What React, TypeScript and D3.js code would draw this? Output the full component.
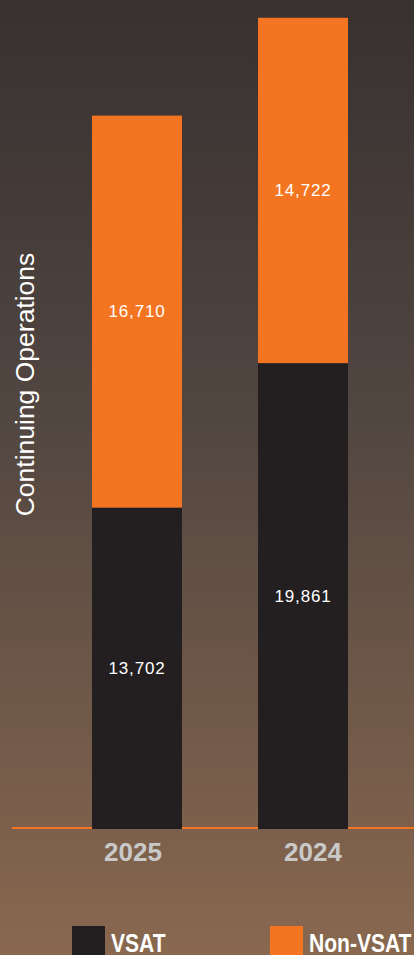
import React from "react";
import * as d3 from "d3";

const years = ["2025", "2024"];
const vsat = [13702, 19861];
const nonVsat = [16710, 14722];
const seriesNames = ["VSAT", "Non-VSAT"];
const seriesColors = ["#231f20", "#f47521"];
const axisTitle = "Continuing Operations";
const axisMax = 35000;

const W = 414;
const H = 955;

export default function App() {
  const data = years.map((y, i) => ({ year: y, VSAT: vsat[i], "Non-VSAT": nonVsat[i] }));
  const stack = d3.stack<any>().keys(seriesNames)(data);

  const baseline = 829;
  const y = d3.scaleLinear().domain([0, axisMax]).range([baseline, 8]);
  const x = d3.scaleBand<string>().domain(years).range([16, 424]).paddingInner(0.458).paddingOuter(0.458);
  const labelX = d3.scalePoint<string>().domain(years).range([133, 313]);
  const fmt = d3.format(",");

  const font = "'Liberation Sans', Arial, Helvetica, sans-serif";

  return (
    <svg
      width={W}
      height={H}
      style={{ position: "absolute", left: 0, top: 0, display: "block" }}
      xmlns="http://www.w3.org/2000/svg"
    >
      <defs>
        <linearGradient id="bg" x1="0" y1="0" x2="0" y2="1">
          <stop offset="0%" stopColor="#373130" />
          <stop offset="45%" stopColor="#534741" />
          <stop offset="100%" stopColor="#89684f" />
        </linearGradient>
      </defs>
      <rect x={0} y={0} width={W} height={H} fill="url(#bg)" />

      <line x1={12} x2={W} y1={828} y2={828} stroke="#f47521" strokeWidth={2} />

      {stack.map((s, si) => (
        <g key={s.key} fill={seriesColors[si]}>
          {s.map((d: any, i: number) => (
            <rect
              key={i}
              x={x(years[i])}
              width={x.bandwidth()}
              y={y(d[1])}
              height={y(d[0]) - y(d[1])}
            />
          ))}
        </g>
      ))}

      {stack.map((s) =>
        s.map((d: any, i: number) => (
          <text
            key={s.key + i}
            x={(x(years[i]) as number) + x.bandwidth() / 2}
            y={(y(d[0]) + y(d[1])) / 2}
            textAnchor="middle"
            dominantBaseline="central"
            fill="#ffffff"
            fontFamily={font}
            fontSize={17}
            letterSpacing={0.8}
          >
            {fmt(d[1] - d[0])}
          </text>
        ))
      )}

      {years.map((yr) => (
        <text
          key={yr}
          x={labelX(yr)}
          y={861}
          textAnchor="middle"
          fill="#c9c9c9"
          fontFamily={font}
          fontSize={26}
          fontWeight="bold"
        >
          {yr}
        </text>
      ))}

      <text
        transform={`translate(34, ${384.5}) rotate(-90)`}
        textAnchor="middle"
        fill="#ffffff"
        fontFamily={font}
        fontSize={26.5}
      >
        {axisTitle}
      </text>

      {seriesNames.map((name, i) => {
        const sx = [72, 270][i];
        return (
          <g key={name}>
            <rect x={sx} y={926} width={33} height={40} fill={seriesColors[i]} />
            <text
              x={sx + 39}
              y={952}
              fill="#ffffff"
              fontFamily={font}
              fontSize={26}
              fontWeight="bold"
              transform={`translate(${(sx + 39) * (1 - 0.81)}, 0) scale(0.81, 1)`}
            >
              {name}
            </text>
          </g>
        );
      })}
    </svg>
  );
}
